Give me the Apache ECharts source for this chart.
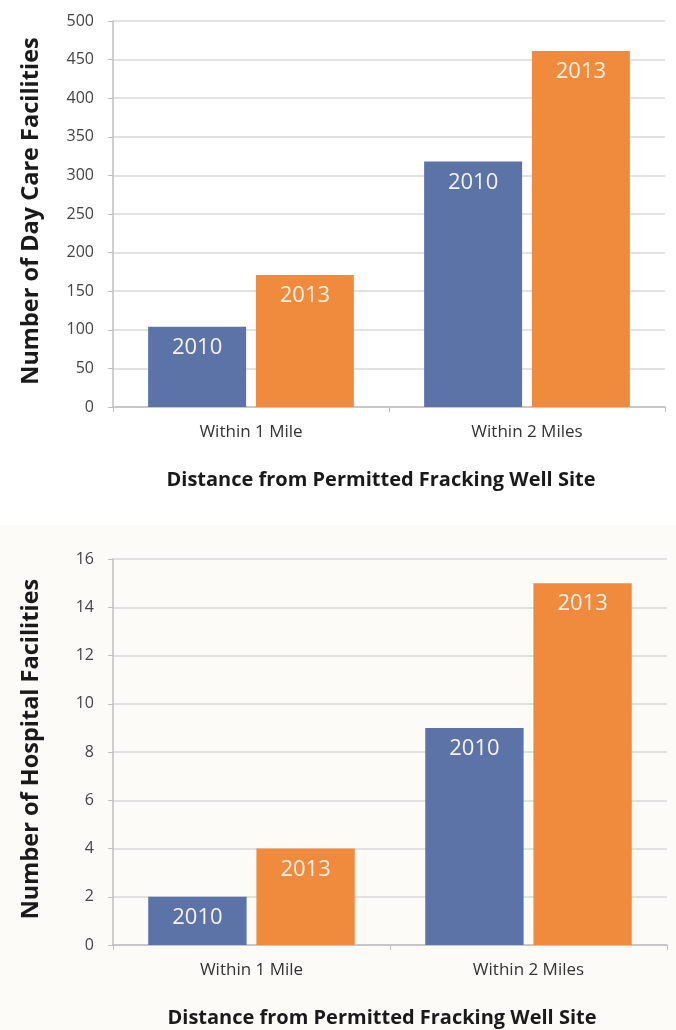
<!DOCTYPE html>
<html>
<head>
<meta charset="utf-8">
<script src="https://cdn.jsdelivr.net/npm/echarts@6/dist/echarts.min.js"></script>
<style>
html,body{margin:0;padding:0;background:#ffffff;}
#main{width:676px;height:1030px;}
</style>
</head>
<body>
<div id="main"></div>
<script>
const categories = ['Within 1 Mile', 'Within 2 Miles'];
const seriesNames = ['2010', '2013'];
const dayCare2010 = [104, 318];
const dayCare2013 = [171, 461];
const hospital2010 = [2, 9];
const hospital2013 = [4, 15];
const dayCareTicks = {min: 0, max: 500, interval: 50};
const hospitalTicks = {min: 0, max: 16, interval: 2};
const dayCareTitle = 'Number of Day Care Facilities';
const hospitalTitle = 'Number of Hospital Facilities';
const xTitle = 'Distance from Permitted Fracking Well Site';

const FONT = 'Open Sans';
const BLUE = '#5b73a7';
const ORANGE = '#f08b3d';

function xAxisFor(gi) {
  return {
    type: 'category', gridIndex: gi, data: categories,
    name: xTitle, nameLocation: 'middle', nameGap: 63,
    nameTextStyle: {fontFamily: FONT, fontWeight: 'bold', fontSize: 20, color: '#1a1a1a', padding: [0, 16, 0, 0]},
    axisLine: {lineStyle: {color: '#bfbfbf', width: 1.5}},
    axisTick: {show: true, length: 5, lineStyle: {color: '#bfbfbf'}},
    axisLabel: {fontFamily: FONT, fontSize: 17, color: '#333', margin: 17}
  };
}
function yAxisFor(gi, t, title) {
  return {
    type: 'value', gridIndex: gi, min: t.min, max: t.max, interval: t.interval,
    name: title, nameLocation: 'middle', nameGap: 70, nameRotate: 90,
    nameTextStyle: {fontFamily: FONT, fontWeight: 'bold', fontSize: 23.5, color: '#1a1a1a', padding: [0, 0, 0, 6]},
    axisLine: {show: true, lineStyle: {color: '#bfbfbf', width: 1.5}},
    axisTick: {show: true, length: 5, lineStyle: {color: '#bfbfbf'}},
    axisLabel: {fontFamily: FONT, fontSize: 16, color: '#444', margin: 19},
    splitLine: {lineStyle: {color: '#d9d9d9', width: 1.5}}
  };
}
function barSeries(name, data, color, xi) {
  return {
    type: 'bar', name: name, data: data, xAxisIndex: xi, yAxisIndex: xi,
    barWidth: '35.5%', barGap: '10%',
    itemStyle: {color: color},
    label: {show: true, position: 'insideTop', distance: 10, formatter: name,
      fontFamily: FONT, fontSize: 22, color: '#f7f3ea'}
  };
}

const chart = echarts.init(document.getElementById('main'), null, {renderer: 'canvas'});
chart.setOption({
  animation: false,
  backgroundColor: '#ffffff',
  graphic: [{type: 'rect', left: 0, top: 525, shape: {width: 676, height: 505}, style: {fill: '#fcfbf7'}, z: -10}],
  grid: [
    {left: 113, right: 11, top: 21, height: 386},
    {left: 113, right: 9, top: 559, height: 386}
  ],
  xAxis: [xAxisFor(0), xAxisFor(1)],
  yAxis: [yAxisFor(0, dayCareTicks, dayCareTitle), yAxisFor(1, hospitalTicks, hospitalTitle)],
  series: [
    barSeries(seriesNames[0], dayCare2010, BLUE, 0),
    barSeries(seriesNames[1], dayCare2013, ORANGE, 0),
    barSeries(seriesNames[0], hospital2010, BLUE, 1),
    barSeries(seriesNames[1], hospital2013, ORANGE, 1)
  ]
});
</script>
</body>
</html>
